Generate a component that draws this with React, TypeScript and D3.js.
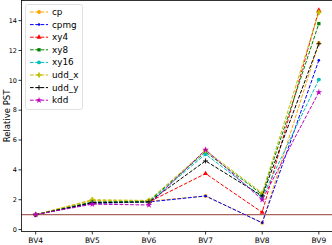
import React, { useRef, useEffect } from "react";
import * as d3 from "d3";

const categories = ["BV4", "BV5", "BV6", "BV7", "BV8", "BV9"];
const yTicks = [0, 2, 4, 6, 8, 10, 12, 14];

const cp = [1.0, 1.95, 1.9, 2.25, 0.45, 12.5];
const cpmg = [1.0, 1.75, 1.85, 2.25, 0.45, 11.35];
const xy4 = [1.0, 1.8, 1.85, 3.75, 1.15, 14.7];
const xy8 = [1.0, 1.85, 1.9, 5.2, 2.35, 13.8];
const xy16 = [1.0, 1.8, 1.85, 5.05, 2.15, 10.05];
const udd_x = [1.0, 2.0, 1.95, 5.3, 2.45, 14.55];
const udd_y = [1.0, 1.8, 1.85, 4.6, 2.25, 12.45];
const kdd = [1.0, 1.7, 1.65, 5.35, 2.0, 9.2];

const series = [
  { name: "cp", values: cp, color: "#ffa500", marker: "o" },
  { name: "cpmg", values: cpmg, color: "#0000ff", marker: "." },
  { name: "xy4", values: xy4, color: "#ff0000", marker: "^" },
  { name: "xy8", values: xy8, color: "#008000", marker: "s" },
  { name: "xy16", values: xy16, color: "#00bfbf", marker: "o" },
  { name: "udd_x", values: udd_x, color: "#bfbf00", marker: "P" },
  { name: "udd_y", values: udd_y, color: "#000000", marker: "+" },
  { name: "kdd", values: kdd, color: "#bf00bf", marker: "*" },
];

const FONT = "DejaVu Sans, sans-serif";

function drawMarker(g: any, kind: string, x: number, y: number, color: string) {
  if (kind === "+") {
    g.append("path")
      .attr("d", `M${x - 2.5},${y}H${x + 2.5}M${x},${y - 2.5}V${y + 2.5}`)
      .attr("stroke", color)
      .attr("stroke-width", 0.9);
    return;
  }
  let type: any = d3.symbolCircle;
  let size = 12;
  if (kind === ".") size = 5;
  if (kind === "^") { type = d3.symbolTriangle; size = 11; }
  if (kind === "s") { type = d3.symbolSquare; size = 11; }
  if (kind === "P") { type = d3.symbolCross; size = 15; }
  if (kind === "*") { type = d3.symbolStar; size = 13; }
  g.append("path")
    .attr("d", d3.symbol().type(type).size(size)())
    .attr("transform", `translate(${x},${y})`)
    .attr("fill", color);
}

const App: React.FC = () => {
  const ref = useRef<SVGSVGElement | null>(null);

  useEffect(() => {
    const svg = d3.select(ref.current);
    svg.selectAll("*").remove();

    const left = 21.5, right = 333, top = 0.5, bottom = 231.5;

    const x = d3.scaleLinear().domain([-0.25, 5.25]).range([left, right]);
    const y = d3.scaleLinear().domain([-0.13, 15.35]).range([bottom, top]);

    // reference line at 1
    svg.append("line")
      .attr("x1", left).attr("x2", right)
      .attr("y1", y(1)).attr("y2", y(1))
      .attr("stroke", "#a8645a").attr("stroke-width", 1.2);

    const line = d3.line<number>().x((_, i) => x(i)).y((d) => y(d));

    series.forEach((s) => {
      const g = svg.append("g");
      g.append("path")
        .attr("d", line(s.values))
        .attr("fill", "none")
        .attr("stroke", s.color)
        .attr("stroke-width", 1)
        .attr("stroke-dasharray", "3.7,1.6");
      s.values.forEach((v, i) => drawMarker(g, s.marker, x(i), y(v), s.color));
    });

    // spines
    svg.append("rect")
      .attr("x", left).attr("y", top)
      .attr("width", right - left).attr("height", bottom - top)
      .attr("fill", "none").attr("stroke", "#000").attr("stroke-width", 0.8);

    // y axis
    const ya = svg.append("g");
    yTicks.forEach((t) => {
      ya.append("line")
        .attr("x1", left - 3).attr("x2", left)
        .attr("y1", y(t)).attr("y2", y(t))
        .attr("stroke", "#000").attr("stroke-width", 0.8);
      ya.append("text")
        .attr("x", left - 4.5).attr("y", y(t))
        .attr("dy", "0.35em")
        .attr("text-anchor", "end")
        .attr("font-family", FONT).attr("font-size", 6.5)
        .text(t);
    });

    // x axis
    const xa = svg.append("g");
    categories.forEach((c, i) => {
      xa.append("line")
        .attr("x1", x(i)).attr("x2", x(i))
        .attr("y1", bottom).attr("y2", bottom + 3)
        .attr("stroke", "#000").attr("stroke-width", 0.8);
      xa.append("text")
        .attr("x", x(i)).attr("y", bottom + 11)
        .attr("text-anchor", "middle")
        .attr("font-family", FONT).attr("font-size", 7.5)
        .text(c);
    });

    svg.append("text")
      .attr("transform", `translate(10,${(top + bottom) / 2}) rotate(-90)`)
      .attr("text-anchor", "middle")
      .attr("font-family", FONT).attr("font-size", 8.5)
      .text("Relative PST");

    // legend
    const lg = svg.append("g");
    lg.append("rect")
      .attr("x", 25.5).attr("y", 4.5).attr("width", 57).attr("height", 105)
      .attr("rx", 2)
      .attr("fill", "#fff").attr("fill-opacity", 0.8)
      .attr("stroke", "#d9d9d9").attr("stroke-width", 0.8);
    series.forEach((s, i) => {
      const ly = 12 + i * 12.6;
      lg.append("line")
        .attr("x1", 30).attr("x2", 48)
        .attr("y1", ly).attr("y2", ly)
        .attr("stroke", s.color).attr("stroke-width", 1)
        .attr("stroke-dasharray", "3.7,1.6");
      drawMarker(lg, s.marker, 39, ly, s.color);
      lg.append("text")
        .attr("x", 52).attr("y", ly)
        .attr("dy", "0.35em")
        .attr("font-family", FONT).attr("font-size", 8.8)
        .text(s.name);
    });
  }, []);

  return (
    <svg
      ref={ref}
      width={332}
      height={245}
      style={{ position: "absolute", left: 0, top: 0, background: "#fff" }}
    ></svg>
  );
};

export default App;
